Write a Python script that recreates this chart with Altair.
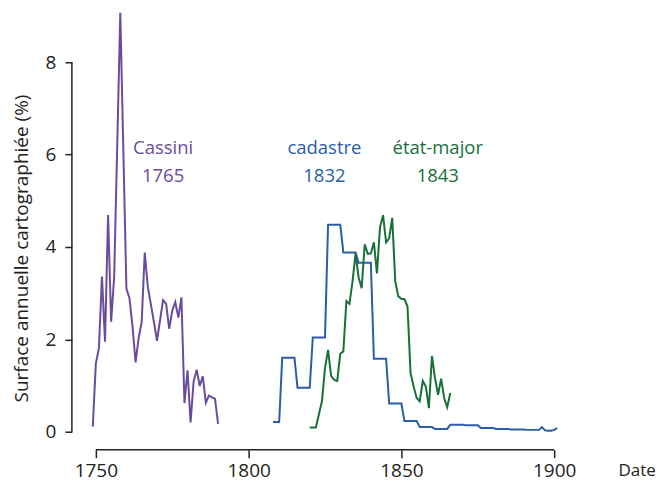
import altair as alt
import pandas as pd

# ---- data ----
cassini_years = [1749, 1750, 1751, 1752, 1753, 1754, 1755, 1756, 1758, 1760, 1761, 1762, 1763,
                 1764, 1765, 1766, 1767, 1769, 1770, 1772, 1773, 1774, 1775, 1776, 1777, 1778,
                 1779, 1780, 1781, 1782, 1783, 1784, 1785, 1786, 1787, 1789, 1790]
cassini_values = [0.11, 1.48, 1.81, 3.36, 1.95, 4.69, 2.38, 3.36, 9.07, 3.10, 2.89, 2.28, 1.50,
                  2.03, 2.38, 3.88, 3.14, 2.38, 1.97, 2.85, 2.77, 2.23, 2.62, 2.81, 2.47, 2.91,
                  0.62, 1.33, 0.20, 1.09, 1.34, 0.99, 1.20, 0.63, 0.78, 0.71, 0.17]

cadastre_years = list(range(1808, 1902))
cadastre_values = ([0.21] * 3 + [1.60] * 5 + [0.95] * 5 + [2.04] * 5 + [4.48] * 5 +
                   [3.88] * 5 + [3.66] * 5 + [1.58] * 5 + [0.61] * 5 + [0.23] * 5 +
                   [0.10] * 5 + [0.06] * 5 + [0.15] * 5 + [0.14] * 5 + [0.08] * 5 +
                   [0.06] * 5 + [0.05] * 5 + [0.04] * 5 +
                   [0.10, 0.03, 0.02, 0.02, 0.04, 0.08])

etat_years = [1820, 1822, 1824, 1825, 1826, 1827, 1828, 1829, 1830, 1831, 1832, 1833, 1834,
              1835, 1836, 1837, 1838, 1839, 1840, 1841, 1842, 1843, 1844, 1845, 1846, 1847,
              1848, 1849, 1850, 1851, 1852, 1853, 1854, 1855, 1856, 1857, 1858, 1859, 1860,
              1861, 1862, 1863, 1864, 1865, 1866]
etat_values = [0.09, 0.09, 0.66, 1.38, 1.77, 1.21, 1.12, 1.10, 1.69, 1.74, 2.83, 2.77, 3.25,
               3.86, 3.34, 3.11, 4.06, 3.85, 3.86, 4.10, 3.43, 4.43, 4.69, 4.10, 4.19, 4.63,
               3.25, 2.93, 2.88, 2.87, 2.71, 1.27, 0.98, 0.73, 0.66, 1.10, 0.98, 0.51, 1.64,
               1.16, 0.80, 1.15, 0.73, 0.53, 0.84]

series_names = ["Cassini", "cadastre", "état-major"]
series_dates = ["1765", "1832", "1843"]
label_x = [1772.0, 1824.8, 1861.9]
label_name_y = [6.14, 6.14, 6.14]
label_date_y = [5.53, 5.53, 5.53]
colors = ["#6a4c9f", "#2a5daa", "#17703a"]

x_ticks = [1750, 1800, 1850, 1900]
y_ticks = [0, 2, 4, 6, 8]

FONT = "Open Sans"
AX = "#222222"

x_scale = alt.Scale(domain=[1742.16, 1908.17], nice=False, zero=False)
y_scale = alt.Scale(domain=[-0.389, 9.124], nice=False, zero=False)

def series_df(name, years, values):
    return pd.DataFrame({"serie": name, "annee": years, "valeur": values})

frames = [series_df(series_names[0], cassini_years, cassini_values),
          series_df(series_names[1], cadastre_years, cadastre_values),
          series_df(series_names[2], etat_years, etat_values)]

x_axis = alt.Axis(values=x_ticks, domain=False, grid=False, tickSize=8, tickColor=AX,
                  tickWidth=1.5, labelFont=FONT, labelFontSize=19, labelColor=AX,
                  labelPadding=4, title="Date", titleFont=FONT, titleFontSize=17,
                  titleFontWeight="normal", titleColor=AX, titleX=547, titleY=21,
                  titleAlign="left", titleBaseline="middle", titleAngle=0, format="d")
y_axis = alt.Axis(values=y_ticks, domain=False, grid=False, tickSize=7, tickColor=AX,
                  tickWidth=1.5, labelFont=FONT, labelFontSize=19, labelColor=AX,
                  labelPadding=9, title="Surface annuelle cartographiée (%)",
                  titleFont=FONT, titleFontSize=19, titleFontWeight="normal",
                  titleColor=AX, titleX=-50, titleY=238, titleAngle=-90,
                  titleAlign="center", titleBaseline="middle")

def X(field):
    return alt.X(field, scale=x_scale, axis=x_axis)

def Y(field):
    return alt.Y(field, scale=y_scale, axis=y_axis)

layers = []
for i, df in enumerate(frames):
    layers.append(alt.Chart(df).mark_line(color=colors[i], strokeWidth=2, clip=False)
                  .encode(x=X("annee:Q"), y=Y("valeur:Q")))

labels = pd.DataFrame({"nom": series_names, "date": series_dates, "x": label_x,
                       "y1": label_name_y, "y2": label_date_y, "c": colors})
for field, yfield in (("nom", "y1"), ("date", "y2")):
    layers.append(alt.Chart(labels).mark_text(font=FONT, fontSize=18.5, align="center",
                                              baseline="middle")
                  .encode(x=X("x:Q"), y=Y(f"{yfield}:Q"),
                          text=f"{field}:N",
                          color=alt.Color("c:N", scale=None)))

# axis lines spanning only the tick range (R style)
x_line = pd.DataFrame({"a": [x_ticks[0]], "b": [x_ticks[-1]]})
y_line = pd.DataFrame({"a": [y_ticks[0]], "b": [y_ticks[-1]]})
layers.append(alt.Chart(x_line).mark_rule(color=AX, strokeWidth=1.5)
              .encode(x=X("a:Q"), x2="b:Q", y=alt.value(440)))
layers.append(alt.Chart(y_line).mark_rule(color=AX, strokeWidth=1.5)
              .encode(y=Y("a:Q"), y2="b:Q", x=alt.value(0)))

chart = alt.layer(*layers).properties(
    width=508, height=440,
    autosize=alt.AutoSizeParams(type="none"),
    padding={"left": 64, "top": 2, "right": 80, "bottom": 35},
).configure_view(stroke=None)

chart.save("out.html", embed_options={"renderer": "svg", "actions": False})
